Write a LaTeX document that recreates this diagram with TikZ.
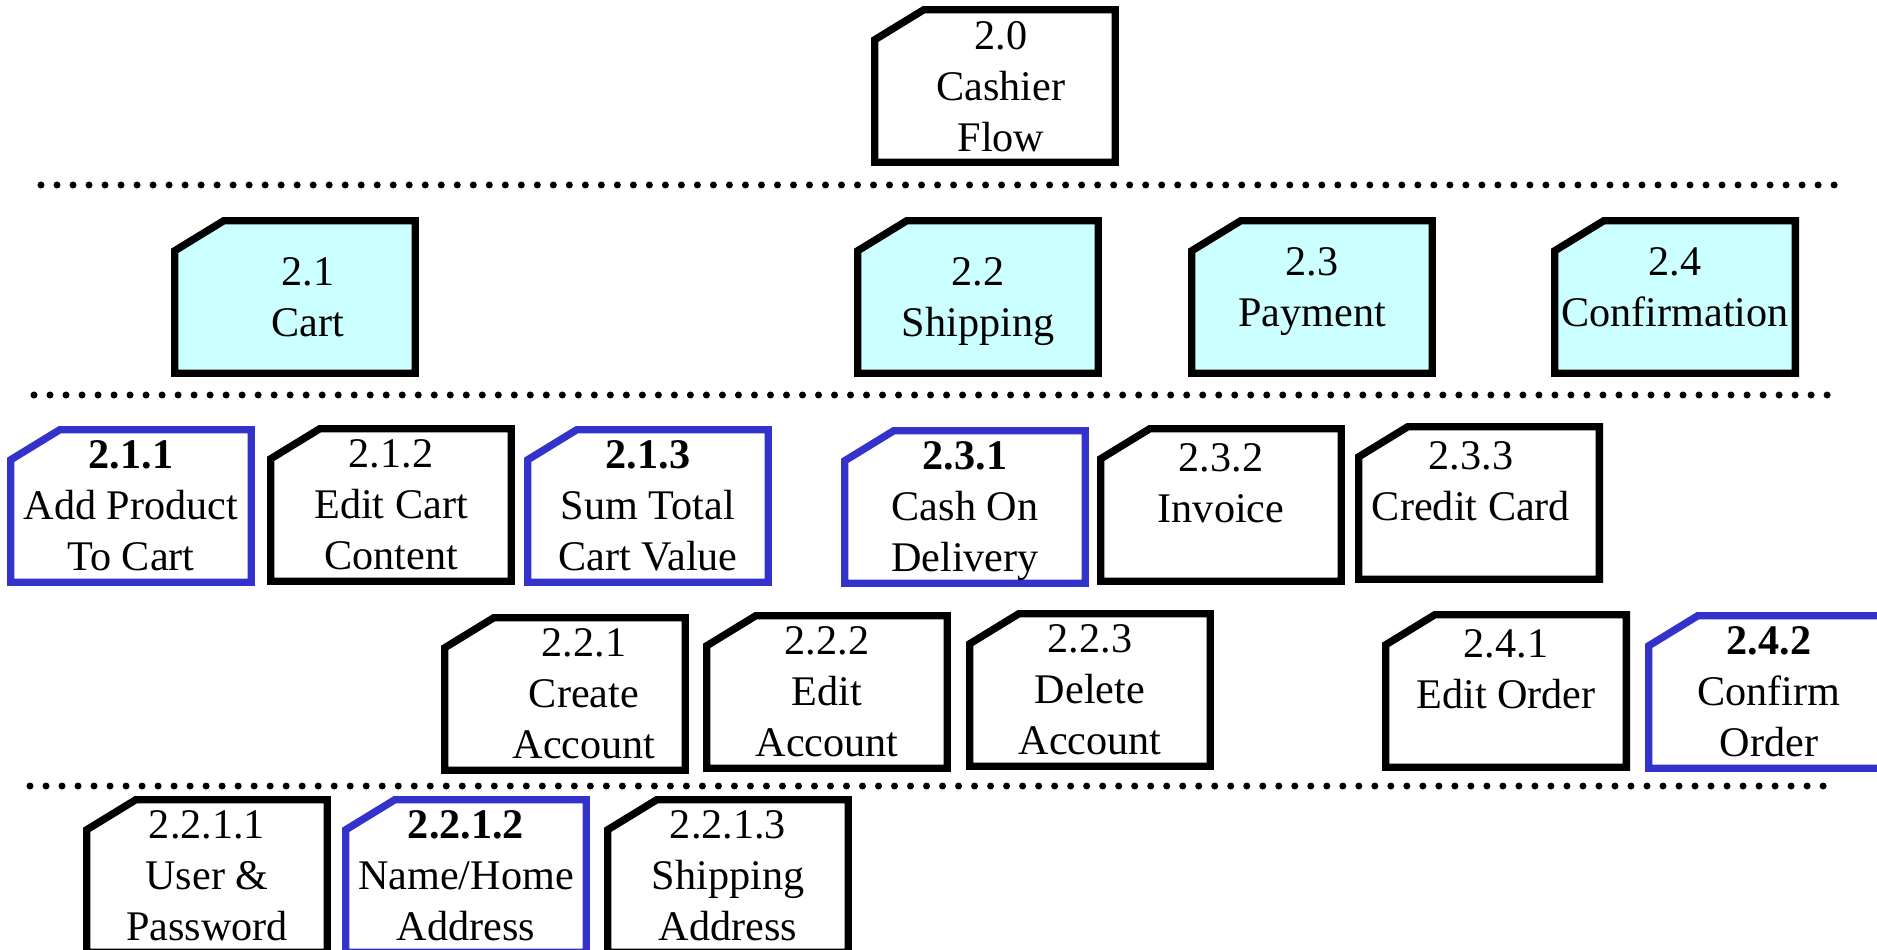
\documentclass[tikz,border=0pt]{standalone}
\usepackage{fontspec}
\setmainfont{Liberation Serif}
\usetikzlibrary{backgrounds}

\definecolor{procblue}{RGB}{51,51,204}
\definecolor{lvlcyan}{RGB}{204,255,255}

\newcommand{\lpad}[1]{\hspace*{#1}}

\tikzset{
  proc/.style={rectangle, minimum width=2.39cm, minimum height=1.51cm,
    inner sep=0pt, align=center, font=\fontsize{12}{14.5}\selectfont,
    text depth=-0.04cm},
  low/.style={text depth=-0.11cm},
  raised/.style={text depth=0.2cm},
  twoup/.style={text depth=0.44cm},
  procline/.style={line width=2.1pt, line join=miter},
  levelsep/.style={line width=0.07cm, line cap=round, dash pattern=on 0pt off 0.16cm}
}

\begin{document}
\begin{tikzpicture}[x=0.01cm, y=-0.01cm]
  \useasboundingbox (0,0) rectangle (1877,949);

  % top
  \node[proc] (p20) at (995,86)
    {\lpad{0.12cm}2.0\\\lpad{0.12cm}Cashier\\\lpad{0.12cm}Flow};

  % level 1
  \node[proc] (p21) at (295,297) {\lpad{0.26cm}2.1\\\lpad{0.26cm}Cart};
  \node[proc] (p22) at (978,297) {2.2\\Shipping};
  \node[proc, raised] (p23) at (1312,297) {2.3\\Payment};
  \node[proc, raised] (p24) at (1675,297) {2.4\\Confirmation};

  % level 2
  \node[proc, low] (p211) at (131,506) {\textbf{2.1.1}\\Add Product\\To Cart};
  \node[proc, low] (p212) at (391,505) {2.1.2\\Edit Cart\\Content};
  \node[proc, low] (p213) at (648,506) {\textbf{2.1.3}\\Sum Total\\Cart Value};
  \node[proc, low] (p231) at (965,507) {\textbf{2.3.1}\\Cash On\\Delivery};
  \node[proc, twoup] (p232) at (1221,505) {2.3.2\\Invoice};
  \node[proc, twoup] (p233) at (1479,503)
    {2.3.3\lpad{0.16cm}\\Credit Card\lpad{0.16cm}};

  \node[proc, low] (p221) at (565,694)
    {\lpad{0.38cm}2.2.1\\\lpad{0.38cm}Create\\\lpad{0.38cm}Account};
  \node[proc, low] (p222) at (827,692) {2.2.2\\Edit\\Account};
  \node[proc, low] (p223) at (1090,690) {2.2.3\\Delete\\Account};
  \node[proc, twoup] (p241) at (1506,691) {2.4.1\\Edit Order};
  \node[proc, low] (p242) at (1769,692) {\textbf{2.4.2}\\Confirm\\Order};

  % level 3
  \node[proc] (p2211) at (207,876) {2.2.1.1\\User \&\\Password};
  \node[proc] (p2212) at (466,876) {\textbf{2.2.1.2}\\Name/Home\\Address};
  \node[proc] (p2213) at (728,876) {2.2.1.3\\Shipping\\Address};

  % box outlines
  \begin{scope}[on background layer]
    \foreach \n/\c/\f in {p20/black/white, p21/black/lvlcyan, p22/black/lvlcyan,
        p23/black/lvlcyan, p24/black/lvlcyan, p211/procblue/white,
        p212/black/white, p213/procblue/white, p231/procblue/white,
        p232/black/white, p233/black/white, p221/black/white,
        p222/black/white, p223/black/white, p241/black/white,
        p242/procblue/white, p2211/black/white, p2212/procblue/white,
        p2213/black/white}
      \draw[procline, draw=\c, fill=\f] (\n.south west)
        -- ([yshift=-0.3cm]\n.north west) -- ([xshift=0.49cm]\n.north west)
        -- (\n.north east) -- (\n.south east) -- cycle;
  \end{scope}

  % level separators
  \draw[levelsep] (41,185) -- (1838,185);
  \draw[levelsep] (34,395) -- (1832,395);
  \draw[levelsep] (30,786) -- (1830,786);
\end{tikzpicture}
\end{document}
